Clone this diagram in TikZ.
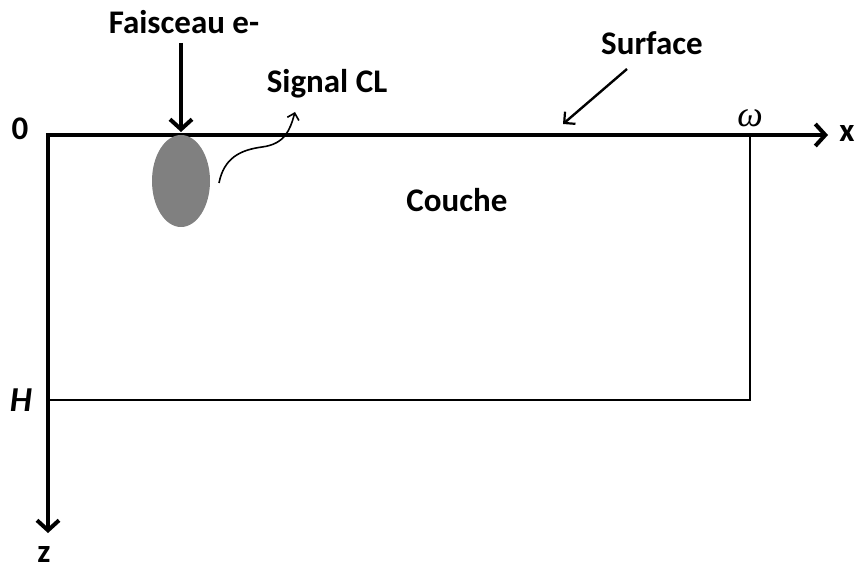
\documentclass[tikz,border=0pt]{standalone}
\usepackage{fontspec}
\setmainfont{Carlito}
\newfontfamily\greekfont{Liberation Serif}
\usepackage{tikz}
\usetikzlibrary{calc,arrows.meta,positioning,shapes.geometric}
\definecolor{spotGray}{RGB}{128,128,128}

\begin{document}
\begin{tikzpicture}[x=1pt,y=-1pt,
  lbl/.style={font=\fontsize{33}{36}\selectfont\bfseries, inner sep=0pt},
  axisline/.style={line width=4.5pt, -{Straight Barb[length=10pt,width=22pt,line width=4pt]}},
  thinbox/.style={line width=2.4pt},
  signalarrow/.style={line width=1.6pt, -{Straight Barb[length=6pt,width=12pt]}}]
\useasboundingbox (0,0) rectangle (859,569);
% axes and layer
\coordinate (orig) at (48,135);
\coordinate (xend) at (828,135);
\coordinate (zend) at (48,533);
\coordinate (omg) at (750,135);
\coordinate (hpt) at (48,400);
\draw[thinbox] (hpt) -- (750,400) -- (omg);
\draw[axisline] ($(orig)+(-2.25,0)$) -- (xend);
\draw[axisline] (orig) -- (zend);
\node[lbl] (xlab) at (847,134) {x};
\node[lbl] (zlab) at (44,554) {z};
\node[lbl] (zero) at (20,129) {0};
\node[font=\fontsize{35}{38}\selectfont\itshape\bfseries, inner sep=0pt] (hlab) at (21,400) {H};
\node[font=\fontsize{36}{38}\selectfont\greekfont\itshape, inner sep=0pt] (wlab) at (750,118) {ω};
% electron spot
\node[ellipse, fill=spotGray, minimum width=58pt, minimum height=92pt, inner sep=0pt] (spot) at (181,181) {};
\node[lbl] (beam) at (184,22) {Faisceau e-};
\draw[axisline] (181,43) -- (181,132);
% signal
\node[lbl] (signal) at (327,84) {Signal CL};
\draw[signalarrow] (219,183) .. controls (224,158) and (240,150) .. (262,147)
  .. controls (285,144) and (290,130) .. (295,112);
% surface
\node[lbl] (surf) at (652,43) {Surface};
\draw[line width=2.4pt, -{Straight Barb[length=8pt,width=16pt,line width=2.2pt]}] (627,69) -- (563,124);
\node[lbl] (layer) at (457,200) {Couche};
\end{tikzpicture}
\end{document}
